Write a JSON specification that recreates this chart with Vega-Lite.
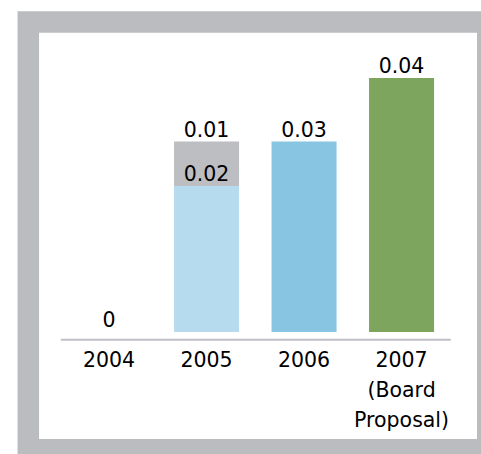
{
  "$schema": "https://vega.github.io/schema/vega-lite/v6.json",
  "autosize": "none",
  "padding": {"left": 28.3, "top": 22, "right": -6.75, "bottom": 4.25},
  "width": 459.45,
  "height": 427.75,
  "background": "white",
  "config": {
    "view": {"fill": "white", "stroke": "#BBBCC0", "strokeWidth": 21.5},
    "font": "DejaVu Sans"
  },
  "data": {
    "values": [
      {"year": "2004", "part": "2004", "value": 0, "order": 1},
      {"year": "2005", "part": "2005 base", "value": 0.023, "order": 1},
      {"year": "2005", "part": "2005 added", "value": 0.007, "order": 2},
      {"year": "2006", "part": "2006", "value": 0.03, "order": 1},
      {"year": "2007 (Board Proposal)", "part": "2007", "value": 0.04, "order": 1}
    ]
  },
  "transform": [
    {"stack": "value", "groupby": ["year"], "sort": [{"field": "order", "order": "ascending"}], "as": ["v0", "v1"]}
  ],
  "encoding": {
    "x": {
      "field": "year",
      "type": "nominal",
      "sort": null,
      "scale": {"range": [32, 422], "paddingInner": 0.333, "paddingOuter": 0.1665},
      "axis": {
        "title": null,
        "orient": "bottom",
        "offset": -110.5,
        "domainColor": "#BFC0C4",
        "domainWidth": 2,
        "ticks": false,
        "tickSize": 0,
        "grid": false,
        "labelAngle": 0,
        "labelFont": "DejaVu Sans",
        "labelFontSize": 20.5,
        "labelColor": "black",
        "labelPadding": 11,
        "labelBaseline": "top",
        "labelLineHeight": 30,
        "labelOverlap": false,
        "labelExpr": "split(datum.label, ' ')"
      }
    }
  },
  "layer": [
    {
      "mark": {"type": "bar"},
      "encoding": {
        "y": {"field": "v0", "type": "quantitative", "scale": {"domain": [0, 0.04], "range": [310, 56]}, "axis": null},
        "y2": {"field": "v1"},
        "color": {
          "field": "part",
          "type": "nominal",
          "scale": {
            "domain": ["2004", "2005 base", "2005 added", "2006", "2007"],
            "range": ["#B7DBEE", "#B7DBEE", "#BDBEC2", "#88C5E2", "#7DA55E"]
          },
          "legend": null
        }
      }
    },
    {
      "mark": {"type": "text", "baseline": "alphabetic", "dy": -5, "fontSize": 20.5, "color": "black", "font": "DejaVu Sans"},
      "encoding": {
        "y": {"field": "v1", "type": "quantitative"},
        "text": {"field": "value", "type": "quantitative", "format": ".2~f"}
      }
    }
  ]
}
